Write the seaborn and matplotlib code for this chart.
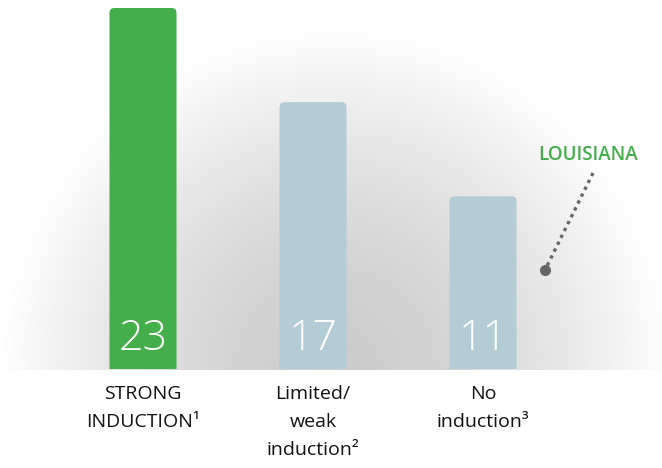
import numpy as np
import pandas as pd
import matplotlib
matplotlib.use("Agg")
import matplotlib.pyplot as plt
import seaborn as sns
from matplotlib.patches import FancyBboxPatch

categories = ["STRONG\nINDUCTION¹", "Limited/\nweak\ninduction²", "No\ninduction³"]
values = [23, 17, 11]
colors = ["#43ae4a", "#b3ccd5", "#b3ccd5"]
annotation = "LOUISIANA"

sns.set_theme(style="white")
plt.rcParams['font.family'] = ['Open Sans', 'DejaVu Sans']

W, H = 662, 468
fig = plt.figure(figsize=(W / 100, H / 100), dpi=100)

# background radial gradient
bg = fig.add_axes([0, 0, 1, 1])
bg.set_axis_off()
yy, xx = np.mgrid[0:H, 0:W]
cx, cy = 335, 372
r = np.sqrt(((xx - cx) / 335.0) ** 2 + ((yy - cy) / 345.0) ** 2)
r = np.clip(r, 0, 1)
g = 0.80 + 0.20 * (r ** 1.6)
g = np.clip(g, 0, 1)
g[yy > 369] = 1.0
img = np.dstack([g, g, g])
bg.imshow(img, extent=[0, W, H, 0], aspect="auto", interpolation="bilinear")
bg.set_xlim(0, W)
bg.set_ylim(H, 0)

# main axes
bottom_px, top_px = 369, 8
ax = fig.add_axes([0, (H - bottom_px) / H, 1, (bottom_px - top_px) / H])
ax.patch.set_alpha(0)
df = pd.DataFrame({"cat": categories, "val": values})
width = 67 / 170
sns.barplot(data=df, x="cat", y="val", hue="cat", palette=colors, legend=False,
            width=width, ax=ax, saturation=1, linewidth=0)
x0 = 143
ax.set_xlim(-x0 / 170, (W - x0) / 170)
ax.set_ylim(0, 23)
ax.set_axis_off()

rx = 5 / 170
ry = 5 * 23 / (bottom_px - top_px)
for p, c, v in zip(list(ax.patches), colors, values):
    x, y = p.get_x(), p.get_y()
    w, h = p.get_width(), p.get_height()
    p.set_visible(False)
    fb = FancyBboxPatch((x, y - 2 * ry), w, h + 2 * ry,
                        boxstyle=f"round,pad=0,rounding_size={rx}",
                        mutation_aspect=ry / rx, facecolor=c, edgecolor="none",
                        linewidth=0)
    ax.add_patch(fb)
    ax.text(x + w / 2, 1.2, str(v), ha="center", va="baseline", color="white",
            fontsize=31, fontweight="light")

# category labels
for i, lab in enumerate(categories):
    fig.text((x0 + i * 170) / W, 1 - 385 / H, lab, ha="center", va="top",
             fontsize=14, color="#111111", linespacing=1.7)

# LOUISIANA annotation
fig.text(588 / W, 1 - 155 / H, annotation, ha="center", va="center",
         fontsize=13.5, fontweight="semibold", color="#43ae4a")
bg.plot([593, 546], [173, 268], linestyle=(0, (1, 1.3)), color="#666666", lw=2.4)
bg.plot([545], [270], marker="o", markersize=7, color="#666666")

fig.savefig("out.png", dpi=100)
